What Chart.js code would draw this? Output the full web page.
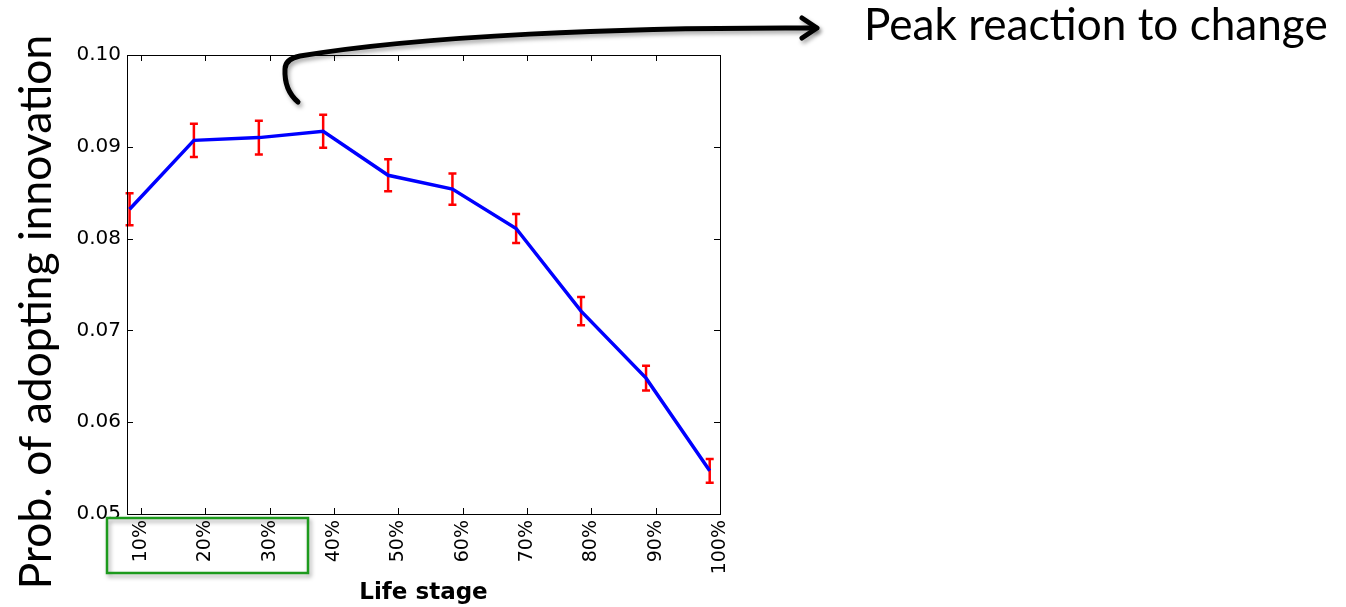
<!DOCTYPE html>
<html>
<head>
<meta charset="utf-8">
<script src="https://cdn.jsdelivr.net/npm/chart.js@4"></script>
<style>
    html, body { margin: 0; padding: 0; background: #fff; }
    #wrap { width: 1346px; height: 607px; }
</style>
</head>
<body>
<div id="wrap"><canvas id="lifeStage" width="1346" height="607"></canvas></div>
<script>
// life stage position of each point (percent) and adoption probability
const stages = [8.2, 18.2, 28.3, 38.3, 48.4, 58.4, 68.3, 78.4, 88.5, 98.4];
const probs = [0.0832, 0.0907, 0.0910, 0.0917, 0.0869, 0.0854, 0.0811, 0.0721, 0.0648, 0.0547];
const errs = [0.00174, 0.0018, 0.00185, 0.0018, 0.00174, 0.0017, 0.00158, 0.00153, 0.00136, 0.0013];

const xTicks = [10, 20, 30, 40, 50, 60, 70, 80, 90, 100];
const yTicks = [0.05, 0.06, 0.07, 0.08, 0.09, 0.10];

const yTitle = 'Prob. of adopting innovation';
const xTitle = 'Life stage';
const noteText = 'Peak reaction to change';

const ctx = document.getElementById('lifeStage');

// red error bars, drawn under the line
const errorBars = {
    id: 'errorBars',
    beforeDatasetsDraw(chart) {
        const c = chart.ctx;
        const { x, y } = chart.scales;
        c.save();
        c.strokeStyle = '#ff0000';
        c.lineWidth = 2.5;
        probs.forEach((p, i) => {
            const px = x.getPixelForValue(stages[i]);
            const top = y.getPixelForValue(p + errs[i]);
            const bot = y.getPixelForValue(p - errs[i]);
            c.beginPath();
            c.moveTo(px, top);
            c.lineTo(px, bot);
            c.moveTo(px - 4, top);
            c.lineTo(px + 4, top);
            c.moveTo(px - 4, bot);
            c.lineTo(px + 4, bot);
            c.stroke();
        });
        c.restore();
    }
};

// matplotlib style frame with inward ticks, plus the slide annotations
const frameAndNotes = {
    id: 'frameAndNotes',
    afterDraw(chart) {
        const c = chart.ctx;
        const { x, y } = chart.scales;
        const a = chart.chartArea;
        c.save();
        c.strokeStyle = '#000';
        c.lineWidth = 1;
        c.strokeRect(Math.round(a.left) + 0.5, Math.round(a.top) + 0.5,
            Math.round(a.right - a.left), Math.round(a.bottom - a.top));
        c.beginPath();
        xTicks.forEach(v => {
            const px = Math.round(x.getPixelForValue(v)) + 0.5;
            c.moveTo(px, a.bottom);
            c.lineTo(px, a.bottom - 6);
            c.moveTo(px, a.top);
            c.lineTo(px, a.top + 6);
        });
        yTicks.forEach(v => {
            const py = Math.round(y.getPixelForValue(v)) + 0.5;
            c.moveTo(a.left, py);
            c.lineTo(a.left + 6, py);
            c.moveTo(a.right, py);
            c.lineTo(a.right - 6, py);
        });
        c.stroke();

        // big y axis title
        c.fillStyle = '#000';
        c.font = '40px Lato';
        let w = c.measureText(yTitle).width;
        c.font = (40 * 555 / w).toFixed(1) + 'px Lato';
        c.translate(51, 312);
        c.rotate(-Math.PI / 2);
        c.textAlign = 'center';
        c.fillText(yTitle, 0, 0);
        c.setTransform(1, 0, 0, 1, 0, 0);

        // annotation text
        c.font = '40px Lato';
        w = c.measureText(noteText).width;
        c.font = (40 * 464 / w).toFixed(1) + 'px Lato';
        c.textAlign = 'left';
        c.fillText(noteText, 864, 40);

        // green box around the early stages
        c.shadowColor = 'rgba(0,0,0,0.35)';
        c.shadowBlur = 4;
        c.shadowOffsetX = 2;
        c.shadowOffsetY = 3;
        c.strokeStyle = '#1d9a1d';
        c.lineWidth = 2.5;
        c.strokeRect(107, 518, 201, 55);

        // curved arrow
        c.strokeStyle = '#000';
        c.lineWidth = 5;
        c.lineCap = 'round';
        c.lineJoin = 'round';
        c.beginPath();
        c.moveTo(298, 102);
        c.quadraticCurveTo(284, 90, 285, 69);
        c.quadraticCurveTo(285, 59, 300, 56);
        c.bezierCurveTo(420, 36, 620, 27, 816, 28);
        c.stroke();
        c.beginPath();
        c.moveTo(802, 18);
        c.lineTo(817, 28);
        c.lineTo(802, 38);
        c.stroke();
        c.restore();
    }
};

// eslint-disable-next-line no-unused-vars
const lifeChart = new Chart(ctx, {
    type: 'line',
    data: {
        datasets: [{
            label: 'Adoption',
            data: stages.map((s, i) => ({ x: s, y: probs[i] })),
            borderColor: '#0000ff',
            borderWidth: 3.5,
            pointRadius: 0,
            tension: 0,
            fill: false
        }]
    },
    options: {
        responsive: false,
        animation: false,
        devicePixelRatio: 1,
        layout: {
            padding: { top: 55, right: 626, left: 0, bottom: 0 }
        },
        plugins: {
            legend: { display: false },
            tooltip: { enabled: false }
        },
        scales: {
            x: {
                type: 'linear',
                min: 7.8,
                max: 100,
                afterBuildTicks: scale => { scale.ticks = xTicks.map(v => ({ value: v })); },
                afterFit: scale => { scale.height = 93; },
                grid: { display: false, drawTicks: false },
                border: { display: false },
                ticks: {
                    minRotation: 90,
                    maxRotation: 90,
                    padding: 6,
                    color: '#000',
                    font: { family: 'DejaVu Sans', size: 19 },
                    callback: v => v + '%'
                },
                title: {
                    display: true,
                    text: xTitle,
                    color: '#000',
                    font: { family: 'DejaVu Sans', size: 23, weight: 'bold' },
                    padding: { top: 0, bottom: 0 }
                }
            },
            y: {
                min: 0.05,
                max: 0.10,
                afterBuildTicks: scale => { scale.ticks = yTicks.map(v => ({ value: v })); },
                afterFit: scale => { scale.width = 127; },
                grid: { display: false, drawTicks: false },
                border: { display: false },
                ticks: {
                    padding: 6,
                    color: '#000',
                    font: { family: 'DejaVu Sans', size: 20 },
                    callback: v => v.toFixed(2)
                }
            }
        }
    },
    plugins: [errorBars, frameAndNotes]
});
</script>
</body>
</html>
